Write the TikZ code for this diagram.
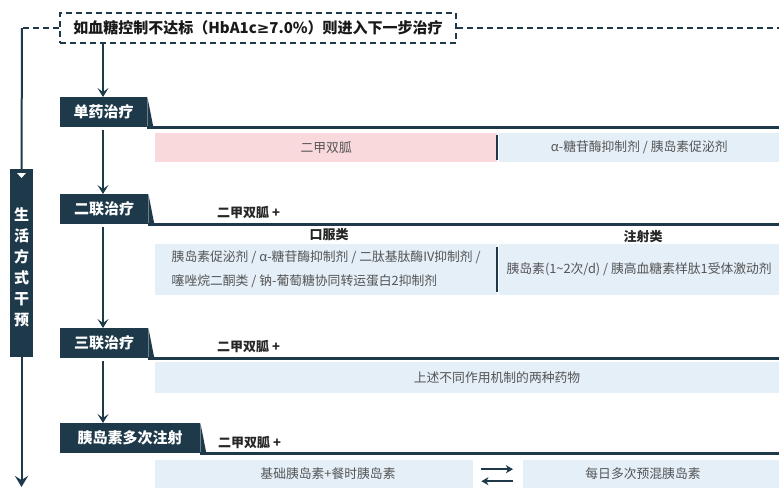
\documentclass[tikz,border=0pt]{standalone}
\usepackage{fontspec}
\setmainfont{Noto Sans CJK SC}
\newfontfamily\symfont{DejaVu Sans}
\usetikzlibrary{arrows.meta,calc}
\definecolor{navy}{HTML}{1E3A4A}
\definecolor{pinkbox}{HTML}{F9D9DC}
\definecolor{bluebox}{HTML}{E4EFF8}
\definecolor{txtgray}{HTML}{555555}
\begin{document}
\begin{tikzpicture}[x=1pt,y=-1pt,
  tab/.style={fill=navy,text=white,font=\bfseries\fontsize{15}{15}\selectfont,minimum height=30pt,inner sep=0pt,anchor=north west},
  fillbox/.style={inner sep=0pt,anchor=north west,text=txtgray,font=\fontsize{12.8}{24}\selectfont},
  boxtext/.style={text=txtgray,font=\fontsize{12.8}{24}\selectfont,inner sep=0pt},
  lab/.style={font=\bfseries\fontsize{13}{13}\selectfont,text=black!85,inner sep=0pt},
  rowline/.style={draw=navy,line width=2.2pt},
  sepline/.style={draw=navy,line width=2pt},
  arr/.style={draw=navy,line width=1.5pt,-{Stealth[length=9pt,width=11pt,inset=4pt]}},
  swaparr/.style={draw=navy,line width=2pt,-{Stealth[length=7pt,width=8pt,inset=2pt]}},
  dashline/.style={draw=navy,line width=2pt,dash pattern=on 6pt off 4pt},
  solidline/.style={draw=navy,line width=2pt}
]
\useasboundingbox (0,0) rectangle (779,488);

% fixed reference coordinates
\coordinate (AX) at (103,0);
\coordinate (R) at (779,0);
\coordinate (LC) at (22,28);
\coordinate (RE) at (779,28);
\coordinate (BE) at (21.5,487);

% top dashed box
\node[dashline,minimum width=396pt,minimum height=30pt,inner sep=0pt,
      font=\bfseries\fontsize{15}{15}\selectfont,text=black!90] (top) at (258,28)
  {如血糖控制不达标（HbA1c{\symfont ≥}7.0\%）则进入下一步治疗};
\draw[dashline] (top.west) -- (LC);
\draw[dashline] (top.east) -- (RE);

% side bar
\node[fill=navy,minimum width=23pt,minimum height=188pt,inner sep=0pt,anchor=north] (side) at (21.5,169) {};
\node[text=white,font=\bfseries\fontsize{15}{21}\selectfont,align=center,inner sep=0pt] (sidetxt)
  at ($(side.center)+(0,4)$) {生\\活\\方\\式\\干\\预};
\fill[white] ($(side.north)+(-4.5,4)$) -- ($(side.north)+(4.5,4)$) -- ($(side.north)+(0,9)$) -- cycle;
\draw[solidline] (LC) -- (side.north);
\draw[arr,line width=2pt,-{Stealth[length=11pt,width=13pt,inset=4pt]}] (side.south) -- (BE);

% tabs
\node[tab,minimum width=87pt] (t1) at (60,97) {单药治疗};
\node[tab,minimum width=88pt] (t2) at (60,194) {二联治疗};
\node[tab,minimum width=88pt] (t3) at (60,328) {三联治疗};
\node[tab,minimum width=140pt] (t4) at (60,423) {胰岛素多次注射};
\foreach \t in {t1,t2,t3,t4}{
  \fill[navy] (\t.north east) -- ($(\t.south east)+(6,0)$) -- (\t.south east) -- cycle;
  \draw[rowline] (\t.south east) -- (\t.south -| R);
}

% arrows between stages
\draw[arr] (top.south -| AX) -- (t1.north -| AX);
\draw[arr] ([yshift=-3pt]t1.south -| AX) -- (t2.north -| AX);
\draw[arr] ([yshift=-3pt]t2.south -| AX) -- (t3.north -| AX);
\draw[arr] ([yshift=-3pt]t3.south -| AX) -- (t4.north -| AX);

% row 1
\node[fillbox,fill=pinkbox,minimum width=342pt,minimum height=29pt] (r1a) at (155,133) {二甲双胍};
\node[fillbox,fill=bluebox,minimum width=280pt,minimum height=29pt] (r1b) at (499,133) {α-糖苷酶抑制剂 / 胰岛素促泌剂};
\draw[sepline] ($(r1a.north east)+(0,2)$) -- ($(r1a.south east)+(0,-2)$);

% row 2
\node[lab,anchor=west] (m2) at (217,213) {二甲双胍 +};
\node[lab] (oral) at (329,235) {口服类};
\node[lab] (inj) at (643,237) {注射类};
\node[fillbox,fill=bluebox,minimum width=342pt,minimum height=51pt,align=left] (r2a) at (155,244)
  {胰岛素促泌剂 / α-糖苷酶抑制剂 / 二肽基肽酶IV抑制剂 /\\噻唑烷二酮类 / 钠-葡萄糖协同转运蛋白2抑制剂};
\node[fillbox,fill=bluebox,minimum width=280pt,minimum height=51pt] (r2b) at (499,244)
  {胰岛素(1\textasciitilde2次/d) / 胰高血糖素样肽1受体激动剂};
\draw[sepline] ($(r2a.north east)+(0,3)$) -- ($(r2a.south east)+(0,-3)$);

% row 3
\node[lab,anchor=west] (m3) at (217,347) {二甲双胍 +};
\node[fillbox,fill=bluebox,minimum width=624pt,minimum height=31pt] (r3) at (155,362) {};
\node[boxtext] (r3t) at (497,378) {上述不同作用机制的两种药物};

% row 4
\node[lab,anchor=west] (m4) at (218,443) {二甲双胍 +};
\node[fillbox,fill=bluebox,minimum width=318pt,minimum height=28pt] (r4a) at (155,460) {};
\node[boxtext] (r4at) at (328,474) {基础胰岛素+餐时胰岛素};
\node[fillbox,fill=bluebox,minimum width=256pt,minimum height=28pt] (r4b) at (523,460) {};
\node[boxtext] (r4bt) at (643,474) {每日多次预混胰岛素};
\draw[swaparr] ([xshift=8pt,yshift=5pt]r4a.east) -- ([xshift=-10pt,yshift=5pt]r4b.west);
\draw[swaparr] ([xshift=-10pt,yshift=-7pt]r4b.west) -- ([xshift=8pt,yshift=-7pt]r4a.east);
\end{tikzpicture}
\end{document}
